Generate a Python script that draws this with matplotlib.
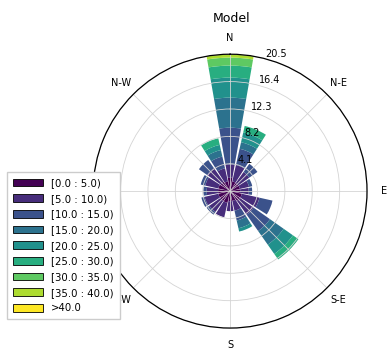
import numpy as np
import matplotlib
matplotlib.use("Agg")
import matplotlib.pyplot as plt
from matplotlib.patches import Patch

# compass sectors, clockwise from north
directions = ["N", "NNE", "NE", "ENE", "E", "ESE", "SE", "SSE",
              "S", "SSW", "SW", "WSW", "W", "WNW", "NW", "NNW"]
speed_labels = ["[0.0 : 5.0)", "[5.0 : 10.0)", "[10.0 : 15.0)", "[15.0 : 20.0)",
                "[20.0 : 25.0)", "[25.0 : 30.0)", "[30.0 : 35.0)", "[35.0 : 40.0)",
                ">40.0"]

# frequency (%) per speed bin, one value per sector
f_0_5   = [2.0, 1.5, 1.5, 1.5, 1.5, 1.8, 1.8, 1.5, 1.5, 1.8, 1.8, 1.8, 1.8, 1.8, 1.7, 1.5]
f_5_10  = [2.0, 2.5, 2.0, 1.4, 1.3, 2.7, 2.5, 1.5, 1.5, 2.2, 2.0, 2.1, 1.7, 2.0, 2.5, 2.0]
f_10_15 = [5.5, 2.5, 1.5, 0.5, 0.5, 2.0, 3.0, 1.5, 0.0, 0.0, 0.5, 0.5, 0.5, 0.7, 1.5, 1.8]
f_15_20 = [4.5, 1.0, 0.0, 0.0, 0.0, 0.0, 2.5, 1.2, 0.0, 0.0, 0.0, 0.0, 0.0, 0.0, 0.0, 1.0]
f_20_25 = [3.0, 1.5, 0.0, 0.0, 0.0, 0.0, 1.7, 0.5, 0.0, 0.0, 0.0, 0.0, 0.0, 0.0, 0.0, 0.8]
f_25_30 = [1.8, 1.0, 0.0, 0.0, 0.0, 0.0, 1.0, 0.0, 0.0, 0.0, 0.0, 0.0, 0.0, 0.0, 0.0, 1.0]
f_30_35 = [1.2, 0.0, 0.0, 0.0, 0.0, 0.0, 0.0, 0.0, 0.0, 0.0, 0.0, 0.0, 0.0, 0.0, 0.0, 0.0]
f_35_40 = [0.5, 0.0, 0.0, 0.0, 0.0, 0.0, 0.0, 0.0, 0.0, 0.0, 0.0, 0.0, 0.0, 0.0, 0.0, 0.0]
f_40_up = [0.0, 0.0, 0.0, 0.0, 0.0, 0.0, 0.0, 0.0, 0.0, 0.0, 0.0, 0.0, 0.0, 0.0, 0.0, 0.0]

table = np.array([f_0_5, f_5_10, f_10_15, f_15_20, f_20_25,
                  f_25_30, f_30_35, f_35_40, f_40_up])
colors = plt.cm.viridis(np.linspace(0, 1, len(speed_labels)))

nsector = len(directions)
theta = np.deg2rad(np.arange(nsector) * 360.0 / nsector)
width = np.deg2rad(360.0 / nsector) * 0.88

fig = plt.figure(figsize=(3.91, 3.52), dpi=100)
ax = fig.add_axes([0.238, 0.068, 0.701, 0.778], projection="polar")
ax.set_theta_zero_location("N")
ax.set_theta_direction(-1)
ax.set_axisbelow(False)

# stacked wedges, one layer per speed bin
bottom = np.zeros(nsector)
for i in range(len(speed_labels)):
    ax.bar(theta, table[i], width=width, bottom=bottom, color=colors[i],
           linewidth=0, align="center")
    bottom += table[i]

rmax = bottom.max()
radii = np.linspace(0, rmax, 6)[1:]
ax.set_ylim(0, rmax)
ax.set_rgrids(radii, labels=["%.1f" % r for r in radii], angle=15, fontsize=7)

ax.set_thetagrids(np.arange(0, 360, 45),
                  labels=["N", "N-E", "E", "S-E", "S", "S-W", "W", "N-W"],
                  fontsize=7)
ax.grid(color="#d4d4d4", linewidth=0.6)
ax.tick_params(axis="x", pad=1.5)
ax.spines["polar"].set_color("black")
ax.spines["polar"].set_linewidth(0.9)
ax.spines["polar"].set_zorder(6)

fig.text(0.593, 0.948, "Model", ha="center", va="center", fontsize=9)

handles = [Patch(facecolor=c, edgecolor="black", linewidth=0.6) for c in colors]
leg = fig.legend(handles, speed_labels, loc="lower left", bbox_to_anchor=(0.006, 0.078),
                 fontsize=7.3, handlelength=2.9, handleheight=0.8, labelspacing=0.56,
                 handletextpad=0.8, borderpad=0.6, fancybox=False,
                 edgecolor="#cccccc", framealpha=1)
leg.set_zorder(10)

fig.savefig("out.png", dpi=100)
